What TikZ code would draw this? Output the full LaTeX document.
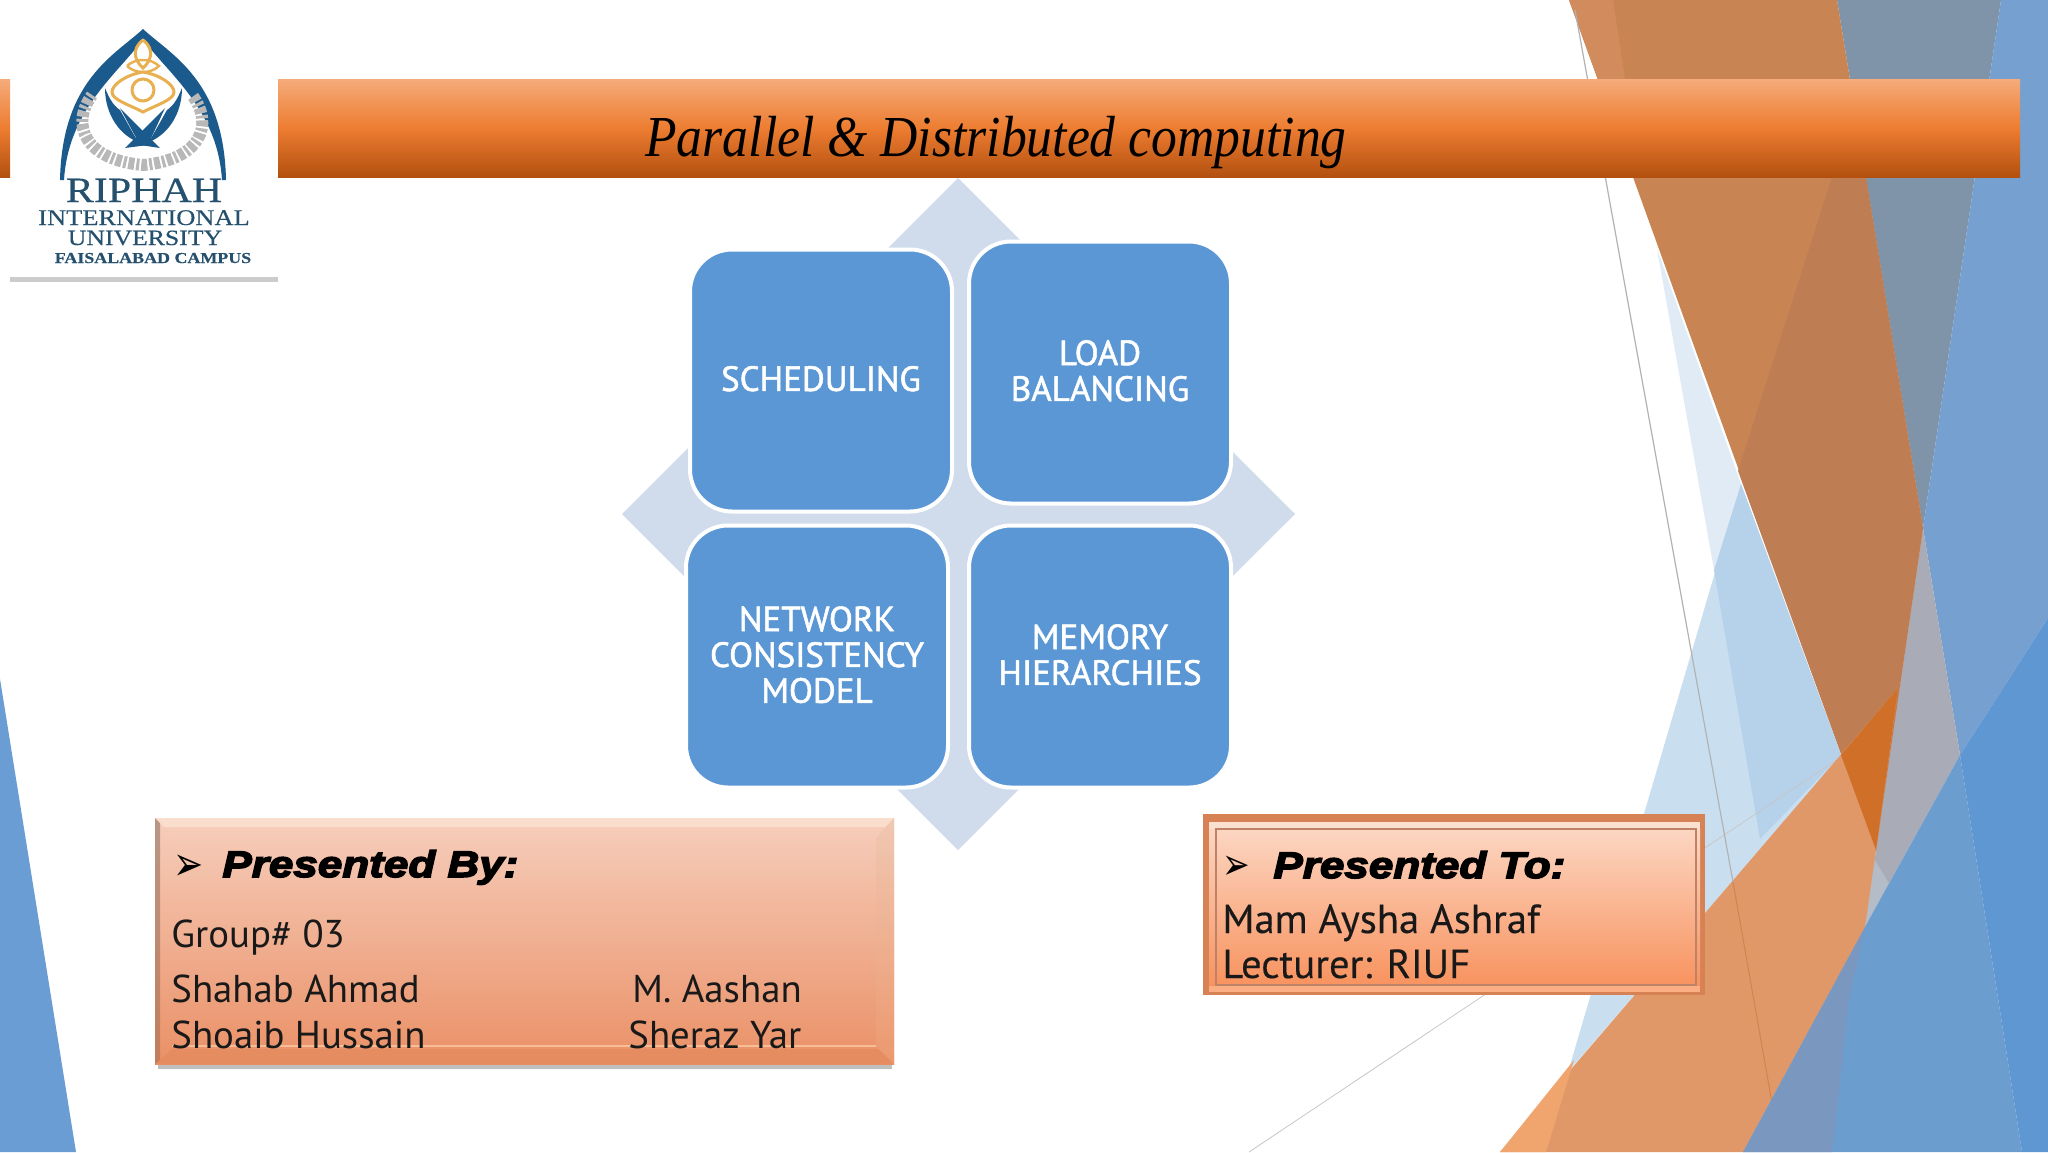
\documentclass[tikz,border=0pt]{standalone}
\usepackage{fontspec}
\usepackage{tikz}
\usetikzlibrary{positioning}
\setsansfont{PT Sans}
\newfontfamily\tilefont[FakeBold=1.5]{PT Sans}
\newfontfamily\namefont[FakeBold=0.25]{PT Sans}
\newfontfamily\presfont[FakeBold=4,FakeStretch=1.19]{Liberation Sans Bold Italic}
\newfontfamily\symfont[FakeStretch=0.75]{DejaVu Sans}
\newfontfamily\logofont[FakeBold=0.4,FakeStretch=1.18]{Liberation Serif}
\newfontfamily\titlefont[FakeStretch=0.89]{Liberation Serif Italic}
\definecolor{tileblue}{HTML}{5B97D5}
\definecolor{diamondblue}{HTML}{D0DCEC}
\definecolor{logoblue}{HTML}{1B5A8C}
\definecolor{logotext}{HTML}{25506E}
\definecolor{logogold}{HTML}{E8B050}
\definecolor{barhi}{HTML}{F5AB7A}
\definecolor{barmid}{HTML}{ED7D31}
\definecolor{barlo}{HTML}{B3500F}
\begin{document}
\begin{tikzpicture}[x=0.5pt, y=-0.5pt,
tile/.style = {draw=white, line width=2pt, fill=tileblue, rounded corners=21pt, minimum size=131pt, align=center, text=white, inner sep=0pt, text depth=2pt, font=\tilefont\fontsize{17.5}{17.9}\selectfont},
lbl/.style = {anchor=base west, inner sep=0pt, text=black!90, font=\sffamily\fontsize{19.4}{24}\selectfont},
lblto/.style = {anchor=base west, inner sep=0pt, text=black!90, font=\namefont\fontsize{20.3}{24}\selectfont},
pres/.style = {anchor=base west, inner sep=0pt, text=black, font=\presfont\fontsize{18.5}{22}\selectfont},
bul/.style = {anchor=base west, inner sep=0pt, text=black, font=\symfont\fontsize{24}{28}\selectfont},
logo/.style = {anchor=base, inner sep=0pt, text=logotext, font=\logofont},
barfill/.style = {top color=barhi, bottom color=barlo, middle color=barmid}]
\useasboundingbox (0,0) rectangle (2048,1152);
\fill[white] (0,0) rectangle (2048,1152);

\fill[color={rgb,255:red,224;green,235;blue,246}] (1657,249) -- (1741,484) -- (1714,570) -- cycle;
\fill[color={rgb,255:red,201;green,223;blue,240}] (1741,484) -- (1568,1072) -- (1841,755) -- cycle;
\fill[color={rgb,255:red,182;green,209;blue,234}] (1741,484) -- (1841,755) -- (1760,839) -- (1714,570) -- cycle;
\draw[black!22, line width=0.4pt] (1249,1152) -- (1841,757);

\fill[color={rgb,255:red,127;green,147;blue,169}] (1837,0) -- (2001,0) -- (1923,528) -- cycle;
\fill[color={rgb,255:red,118;green,160;blue,207}] (2001,0) -- (2048,0) -- (2048,618) -- (1960,755) -- (1923,528) -- cycle;
\fill[color={rgb,255:red,169;green,171;blue,183}] (1923,528) -- (1960,755) -- (1865,927) -- (1876,850) -- cycle;
\fill[color={rgb,255:red,180;green,188;blue,200}] (1873,857) -- (1890,885) -- (1865,927) -- cycle;
\fill[color={rgb,255:red,201;green,132;blue,84}] (1569,0) -- (1837,0) -- (1923,528) -- (1876,850) -- cycle;
\fill[color={rgb,255:red,209;green,139;blue,92}] (1569,0) -- (1613,0) -- (1640,177) -- (1634,177) -- cycle;
\fill[color={rgb,255:red,191;green,125;blue,84}] (1738,471) -- (1832,177) -- (1866,177) -- (1923,528) -- (1876,850) -- cycle;

\fill[color={rgb,255:red,224;green,152;blue,104}] (1500,1152) -- (1898,688) -- (1876,850) -- (1865,927) -- (1743,1152) -- cycle;
\fill[color={rgb,255:red,240;green,165;blue,111}] (1500,1152) -- (1546,1152) -- (1574,1060) -- cycle;
\fill[color={rgb,255:red,208;green,112;blue,40}] (1841,755) -- (1898,688) -- (1876,850) -- cycle;
\draw[black!30, line width=0.6pt] (1575,10) -- (1733,882);
\draw[black!40!orange, opacity=0.25, line width=0.5pt] (1733,882) -- (1775,1120);
\fill[color={rgb,255:red,108;green,157;blue,207}] (1743,1152) -- (1865,927) -- (1960,755) -- (2022,1152) -- cycle;
\fill[color={rgb,255:red,122;green,151;blue,191}] (1743,1152) -- (1832,1152) -- (1849,1000) -- (1865,927) -- cycle;
\fill[color={rgb,255:red,95;green,151;blue,211}] (1960,755) -- (2048,618) -- (2048,1152) -- (2022,1152) -- cycle;
\fill[color={rgb,255:red,106;green,157;blue,212}] (0,679) -- (76,1152) -- (0,1152) -- cycle;

\fill[white] (10,0) rectangle (278,275);
\fill[black!20] (10,277) rectangle (278,282);
\shade[barfill] (278,79) rectangle (2020,177);
\shade[barfill] (0,79) rectangle (10,177);
\node[anchor=base west, inner sep=0pt, text=black, font=\titlefont\fontsize{29}{34}\selectfont] (title) at (645,156) {Parallel \& Distributed computing};

\fill[logoblue] (143,29) .. controls (115,55) and (62,80) .. (60,180) -- (64,180) .. controls (68,115) and (110,80) .. (137,47) -- (143,38) -- (149,47) .. controls (176,80) and (218,115) .. (222,180) -- (226,180) .. controls (224,80) and (171,55) .. (143,29) -- cycle;
\draw[logogold, line width=1.5pt] (143,40) .. controls (130,50) and (136,62) .. (143,68) .. controls (150,62) and (156,50) .. (143,40);
\draw[logogold, line width=1.2pt] (127,66) .. controls (135,58) and (151,58) .. (159,66) .. controls (151,74) and (135,74) .. (127,66);
\draw[logogold, line width=1.5pt] (143,72) .. controls (125,75) and (112,85) .. (112,92) .. controls (112,100) and (130,105) .. (143,112) .. controls (156,105) and (174,100) .. (174,92) .. controls (174,85) and (161,75) .. (143,72);
\draw[logogold, line width=1.5pt] (143,90) circle (11);
\draw[black!28, line width=6pt, dash pattern=on 1.5pt off 1pt on 3pt off 1pt] (92,95) .. controls (70,125) and (85,160) .. (143,165) .. controls (200,160) and (215,125) .. (192,95);
\fill[logoblue] (105,88) .. controls (105,115) and (120,135) .. (138,142) -- (120,110) .. controls (112,105) and (108,95) .. (105,88) -- cycle;
\fill[logoblue] (182,88) .. controls (182,115) and (167,135) .. (149,142) -- (167,110) .. controls (175,105) and (179,95) .. (182,88) -- cycle;
\fill[logoblue] (125,148) -- (165,108) -- (148,145) -- cycle;
\fill[logoblue] (120,108) -- (160,148) -- (140,145) -- cycle;
\node[logo, font=\logofont\fontsize{17.8}{20}\selectfont] (riphah) at (144,202) {RIPHAH};
\node[logo, font=\logofont\fontsize{11.2}{13}\selectfont] (intl) at (144,225) {INTERNATIONAL};
\node[logo, font=\logofont\fontsize{10.9}{13}\selectfont] (univ) at (145,245) {UNIVERSITY};
\node[logo, font=\logofont\bfseries\fontsize{7.6}{9}\selectfont] (campus) at (153,263) {FAISALABAD CAMPUS};

\fill[diamondblue] (958,178) -- (1295,514) -- (958,850) -- (622,514) -- cycle;
\node[tile] (sched) at (821,380.5) {SCHEDULING};
\node[tile] (load) [right=6.5pt of sched, yshift=4pt] {LOAD\\BALANCING};
\node[tile] (net) [below=5pt of sched, xshift=-2pt] {NETWORK\\CONSISTENCY\\MODEL};
\node[tile] (mem) [right=8.5pt of net] {MEMORY\\HIERARCHIES};

\fill[black!25] (158,1062) rectangle (892,1069);
\shade[top color={rgb,255:red,246;green,206;blue,188}, bottom color={rgb,255:red,234;green,144;blue,102}] (155,818) rectangle (894,1064);
\fill[color={rgb,255:red,250;green,222;blue,205}] (155,818) -- (894,818) -- (885,827) -- (164,827) -- cycle;
\fill[color={rgb,255:red,229;green,140;blue,96}] (155,1064) -- (894,1064) -- (878,1049) -- (172,1049) -- cycle;
\shade[top color={rgb,255:red,185;green,150;blue,135}, bottom color={rgb,255:red,195;green,125;blue,90}] (155,818) -- (160,823) -- (160,1060) -- (155,1064) -- cycle;
\shade[top color={rgb,255:red,240;green,200;blue,178}, bottom color={rgb,255:red,236;green,152;blue,110}] (894,818) -- (876,838) -- (876,1046) -- (894,1064) -- cycle;
\draw[color={rgb,255:red,247;green,189;blue,151}, line width=1pt] (172,1046) -- (876,1046);
\node[bul] (byarrow) at (173,880) {➢};
\node[pres] (by) at (222,877) {Presented By:};
\node[lbl] (group) at (171,947) {Group\# 03};
\node[lbl] (shahab) at (171,1002) {Shahab Ahmad};
\node[lbl] (shoaib) at (171,1048) {Shoaib Hussain};
\node[lbl] (aashan) at (632,1002) {M. Aashan};
\node[lbl] (sheraz) at (628,1048) {Sheraz Yar};

\fill[color={rgb,255:red,214;green,130;blue,85}] (1203,814) rectangle (1705,995);
\fill[color={rgb,255:red,251;green,223;blue,207}] (1209,822) rectangle (1700,829);
\fill[color={rgb,255:red,251;green,174;blue,132}] (1209,985) rectangle (1700,992);
\shade[top color={rgb,255:red,252;green,214;blue,194}, bottom color={rgb,255:red,248;green,147;blue,95}] (1209,829) rectangle (1700,985);
\draw[color={rgb,255:red,190;green,130;blue,105}, line width=0.6pt] (1216,829) rectangle (1696,985);
\node[bul, font=\symfont\fontsize{22}{26}\selectfont] (toarrow) at (1222,879) {➢};
\node[pres] (to) at (1273,878) {Presented To:};
\node[lblto] (mam) at (1222,933) {Mam Aysha Ashraf};
\node[lblto] (lect) at (1222,978) {Lecturer: RIUF};
\end{tikzpicture}
\end{document}
